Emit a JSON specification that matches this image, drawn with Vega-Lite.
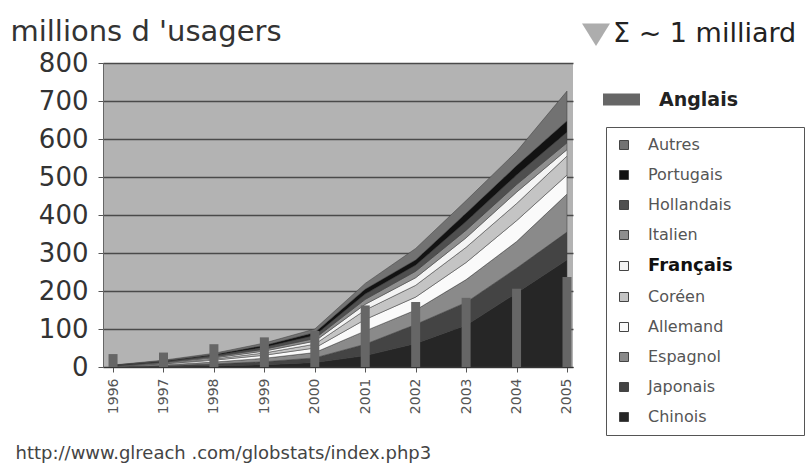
{
  "$schema": "https://vega.github.io/schema/vega-lite/v6.json",
  "width": 470,
  "height": 304,
  "autosize": {"type": "none"},
  "padding": {"left": 103, "top": 63, "right": 238, "bottom": 97},
  "background": "white",
  "config": {"font": "DejaVu Sans", "view": {"fill": "#b3b3b3", "stroke": null}},
  "datasets": {
    "aires": [
      {"annee": 1996, "langue": "Chinois", "usagers": 0.3}, {"annee": 1996, "langue": "Japonais", "usagers": 0.5}, {"annee": 1996, "langue": "Espagnol", "usagers": 0.7}, {"annee": 1996, "langue": "Allemand", "usagers": 0.7}, {"annee": 1996, "langue": "Coréen", "usagers": 0.4}, {"annee": 1996, "langue": "Français", "usagers": 0.6}, {"annee": 1996, "langue": "Italien", "usagers": 0.4}, {"annee": 1996, "langue": "Hollandais", "usagers": 0.4}, {"annee": 1996, "langue": "Portugais", "usagers": 0.5}, {"annee": 1996, "langue": "Autres", "usagers": 0.5},
      {"annee": 1997, "langue": "Chinois", "usagers": 1.5}, {"annee": 1997, "langue": "Japonais", "usagers": 2}, {"annee": 1997, "langue": "Espagnol", "usagers": 2}, {"annee": 1997, "langue": "Allemand", "usagers": 2.5}, {"annee": 1997, "langue": "Coréen", "usagers": 1.5}, {"annee": 1997, "langue": "Français", "usagers": 1.5}, {"annee": 1997, "langue": "Italien", "usagers": 1.5}, {"annee": 1997, "langue": "Hollandais", "usagers": 1.5}, {"annee": 1997, "langue": "Portugais", "usagers": 2}, {"annee": 1997, "langue": "Autres", "usagers": 2},
      {"annee": 1998, "langue": "Chinois", "usagers": 3}, {"annee": 1998, "langue": "Japonais", "usagers": 5}, {"annee": 1998, "langue": "Espagnol", "usagers": 5}, {"annee": 1998, "langue": "Allemand", "usagers": 5}, {"annee": 1998, "langue": "Coréen", "usagers": 3}, {"annee": 1998, "langue": "Français", "usagers": 3}, {"annee": 1998, "langue": "Italien", "usagers": 3}, {"annee": 1998, "langue": "Hollandais", "usagers": 3}, {"annee": 1998, "langue": "Portugais", "usagers": 3}, {"annee": 1998, "langue": "Autres", "usagers": 3},
      {"annee": 1999, "langue": "Chinois", "usagers": 6}, {"annee": 1999, "langue": "Japonais", "usagers": 8}, {"annee": 1999, "langue": "Espagnol", "usagers": 9}, {"annee": 1999, "langue": "Allemand", "usagers": 8}, {"annee": 1999, "langue": "Coréen", "usagers": 6}, {"annee": 1999, "langue": "Français", "usagers": 5}, {"annee": 1999, "langue": "Italien", "usagers": 5}, {"annee": 1999, "langue": "Hollandais", "usagers": 5}, {"annee": 1999, "langue": "Portugais", "usagers": 5}, {"annee": 1999, "langue": "Autres", "usagers": 6},
      {"annee": 2000, "langue": "Chinois", "usagers": 12}, {"annee": 2000, "langue": "Japonais", "usagers": 12}, {"annee": 2000, "langue": "Espagnol", "usagers": 14}, {"annee": 2000, "langue": "Allemand", "usagers": 12}, {"annee": 2000, "langue": "Coréen", "usagers": 10}, {"annee": 2000, "langue": "Français", "usagers": 8}, {"annee": 2000, "langue": "Italien", "usagers": 7}, {"annee": 2000, "langue": "Hollandais", "usagers": 8}, {"annee": 2000, "langue": "Portugais", "usagers": 8}, {"annee": 2000, "langue": "Autres", "usagers": 9},
      {"annee": 2001, "langue": "Chinois", "usagers": 30}, {"annee": 2001, "langue": "Japonais", "usagers": 30}, {"annee": 2001, "langue": "Espagnol", "usagers": 35}, {"annee": 2001, "langue": "Allemand", "usagers": 30}, {"annee": 2001, "langue": "Coréen", "usagers": 25}, {"annee": 2001, "langue": "Français", "usagers": 15}, {"annee": 2001, "langue": "Italien", "usagers": 13}, {"annee": 2001, "langue": "Hollandais", "usagers": 14}, {"annee": 2001, "langue": "Portugais", "usagers": 13}, {"annee": 2001, "langue": "Autres", "usagers": 15},
      {"annee": 2002, "langue": "Chinois", "usagers": 62}, {"annee": 2002, "langue": "Japonais", "usagers": 50}, {"annee": 2002, "langue": "Espagnol", "usagers": 38}, {"annee": 2002, "langue": "Allemand", "usagers": 34}, {"annee": 2002, "langue": "Coréen", "usagers": 31}, {"annee": 2002, "langue": "Français", "usagers": 20}, {"annee": 2002, "langue": "Italien", "usagers": 17}, {"annee": 2002, "langue": "Hollandais", "usagers": 16}, {"annee": 2002, "langue": "Portugais", "usagers": 14}, {"annee": 2002, "langue": "Autres", "usagers": 30},
      {"annee": 2003, "langue": "Chinois", "usagers": 110}, {"annee": 2003, "langue": "Japonais", "usagers": 60}, {"annee": 2003, "langue": "Espagnol", "usagers": 60}, {"annee": 2003, "langue": "Allemand", "usagers": 45}, {"annee": 2003, "langue": "Coréen", "usagers": 40}, {"annee": 2003, "langue": "Français", "usagers": 25}, {"annee": 2003, "langue": "Italien", "usagers": 20}, {"annee": 2003, "langue": "Hollandais", "usagers": 23}, {"annee": 2003, "langue": "Portugais", "usagers": 22}, {"annee": 2003, "langue": "Autres", "usagers": 33},
      {"annee": 2004, "langue": "Chinois", "usagers": 195}, {"annee": 2004, "langue": "Japonais", "usagers": 65}, {"annee": 2004, "langue": "Espagnol", "usagers": 70}, {"annee": 2004, "langue": "Allemand", "usagers": 55}, {"annee": 2004, "langue": "Coréen", "usagers": 45}, {"annee": 2004, "langue": "Français", "usagers": 30}, {"annee": 2004, "langue": "Italien", "usagers": 20}, {"annee": 2004, "langue": "Hollandais", "usagers": 25}, {"annee": 2004, "langue": "Portugais", "usagers": 25}, {"annee": 2004, "langue": "Autres", "usagers": 37},
      {"annee": 2005, "langue": "Chinois", "usagers": 282}, {"annee": 2005, "langue": "Japonais", "usagers": 73}, {"annee": 2005, "langue": "Espagnol", "usagers": 100}, {"annee": 2005, "langue": "Allemand", "usagers": 50}, {"annee": 2005, "langue": "Coréen", "usagers": 50}, {"annee": 2005, "langue": "Français", "usagers": 17}, {"annee": 2005, "langue": "Italien", "usagers": 18}, {"annee": 2005, "langue": "Hollandais", "usagers": 28}, {"annee": 2005, "langue": "Portugais", "usagers": 30}, {"annee": 2005, "langue": "Autres", "usagers": 78}
    ],
    "anglais": [
      {"annee": 1996, "langue": "Anglais", "usagers": 34}, {"annee": 1997, "langue": "Anglais", "usagers": 38}, {"annee": 1998, "langue": "Anglais", "usagers": 60}, {"annee": 1999, "langue": "Anglais", "usagers": 78}, {"annee": 2000, "langue": "Anglais", "usagers": 95},
      {"annee": 2001, "langue": "Anglais", "usagers": 162}, {"annee": 2002, "langue": "Anglais", "usagers": 171}, {"annee": 2003, "langue": "Anglais", "usagers": 182}, {"annee": 2004, "langue": "Anglais", "usagers": 206}, {"annee": 2005, "langue": "Anglais", "usagers": 237}
    ],
    "note": [{"note": "Σ ~ 1 milliard"}]
  },
  "encoding": {
    "x": {
      "field": "annee", "type": "quantitative",
      "scale": {"domain": [1995.9, 2005.02], "nice": false, "zero": false},
      "axis": {
        "values": [1996, 1997, 1998, 1999, 2000, 2001, 2002, 2003, 2004, 2005],
        "format": "d", "labelAngle": -90, "labelFontSize": 14, "labelColor": "#555",
        "labelPadding": 6, "tickSize": 5, "tickColor": "#555", "domainColor": "#333", "grid": false,
        "title": "http://www.glreach .com/globstats/index.php3",
        "titleX": -88, "titleY": 91, "titleAlign": "left", "titleAngle": 0, "titleBaseline": "alphabetic",
        "titleFontSize": 18, "titleFontWeight": "normal", "titleColor": "#444"
      }
    },
    "y": {
      "field": "usagers", "type": "quantitative",
      "scale": {"domain": [0, 800], "nice": false},
      "axis": {
        "values": [0, 100, 200, 300, 400, 500, 600, 700, 800],
        "title": "millions d 'usagers", "titleAngle": 0, "titleAlign": "left", "titleBaseline": "alphabetic",
        "titleX": -93, "titleY": -23, "titleFontSize": 29, "titleFontWeight": "normal", "titleColor": "#333",
        "labelFontSize": 26, "labelColor": "#333", "labelPadding": 10,
        "tickSize": 5, "tickColor": "#555", "domainColor": "#666",
        "grid": true, "gridColor": "#4a4a4a", "gridWidth": 1.5,
        "encode": {"grid": {"update": {"strokeOpacity": {"signal": "datum.value === 800 || datum.value === 0 ? 0 : 1"}}}}
      }
    }
  },
  "layer": [
    {
      "data": {"name": "aires"},
      "transform": [{"calculate": "indexof(['Chinois','Japonais','Espagnol','Allemand','Coréen','Français','Italien','Hollandais','Portugais','Autres'], datum.langue)", "as": "ordre"}],
      "mark": {"type": "area", "stroke": "#3c3c3c", "strokeWidth": 0.5},
      "encoding": {
        "y": {"field": "usagers", "type": "quantitative", "stack": "zero"},
        "color": {
          "field": "langue", "type": "nominal",
          "scale": {
            "domain": ["Autres", "Portugais", "Hollandais", "Italien", "Français", "Coréen", "Allemand", "Espagnol", "Japonais", "Chinois"],
            "range": ["#727272", "#121212", "#4f4f4f", "#8e8e8e", "#f4f4f4", "#c4c4c4", "#fafafa", "#8a8a8a", "#444444", "#262626"]
          },
          "legend": {
            "title": "MMMM", "titleOrient": "right", "titleFontSize": 15, "titlePadding": 1,
            "titleColor": "white", "titleOpacity": 0,
            "orient": "none", "legendX": 503, "legendY": 64, "direction": "vertical",
            "symbolType": "square", "symbolSize": 81, "symbolStrokeColor": "#444", "symbolStrokeWidth": 1,
            "labelFontSize": 16, "labelColor": "#555", "labelOffset": 16, "rowPadding": 14,
            "padding": 10, "strokeColor": "#555", "fillColor": "white", "labelLimit": 200,
            "encode": {"labels": {"update": {
              "fontWeight": {"signal": "datum.value === 'Français' ? 'bold' : 'normal'"},
              "fill": {"signal": "datum.value === 'Français' ? '#111' : '#555'"},
              "fontSize": {"signal": "datum.value === 'Français' ? 18 : 16"}
            }}}
          }
        },
        "order": {"field": "ordre", "type": "quantitative", "sort": "ascending"}
      }
    },
    {
      "data": {"name": "anglais"},
      "mark": {"type": "bar", "width": 9},
      "encoding": {
        "color": {
          "field": "langue", "type": "nominal",
          "scale": {"domain": ["Anglais"], "range": ["#666666"]},
          "legend": {
            "title": null, "orient": "none", "legendX": 500, "legendY": 18,
            "symbolType": "M-1,-0.32H1V0.32H-1Z", "symbolSize": 1369, "symbolStrokeWidth": 0,
            "labelFontSize": 19, "labelFontWeight": "bold", "labelColor": "#222", "labelOffset": 19, "padding": 0
          }
        }
      }
    },
    {
      "data": {"name": "note"},
      "mark": {"type": "point", "filled": true, "size": 0, "color": "#8a8a8a"},
      "encoding": {
        "shape": {
          "field": "note", "type": "nominal",
          "scale": {"domain": ["Σ ~ 1 milliard"], "range": ["M-1,-0.75L1,-0.75L0,0.85Z"]},
          "legend": {
            "title": null, "orient": "none", "legendX": 479, "legendY": -43,
            "symbolSize": 784, "symbolFillColor": "#8a8a8a", "symbolStrokeWidth": 0,
            "labelFontSize": 27, "labelColor": "#222", "labelOffset": 3, "padding": 0, "labelLimit": 400
          }
        }
      }
    }
  ],
  "resolve": {"scale": {"color": "independent"}, "legend": {"color": "independent"}}
}
